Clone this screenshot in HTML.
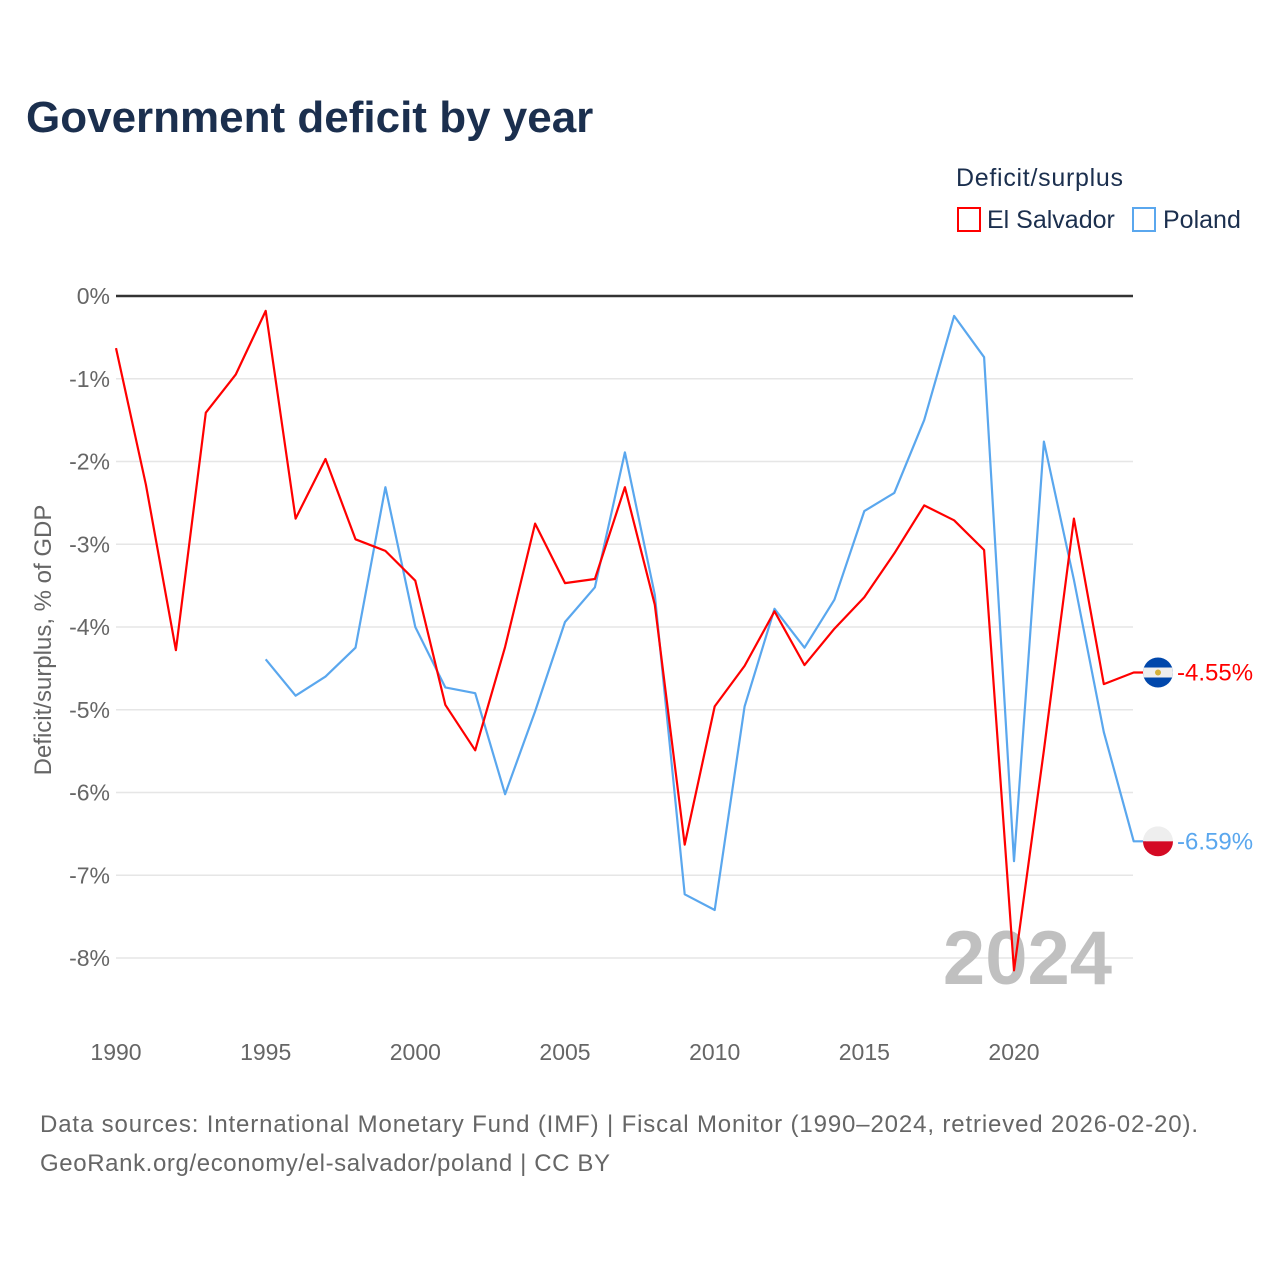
<!DOCTYPE html>
<html><head><meta charset="utf-8">
<style>
body{margin:0;background:#fff;font-family:"Liberation Sans",sans-serif;}
#wrap{position:relative;width:1280px;height:1280px;overflow:hidden;}
</style></head>
<body>
<div id="wrap">
<svg id="chart" width="1280" height="1280">
  <text x="26" y="132" font-size="44" font-weight="bold" fill="#1b2f4e">Government deficit by year</text>
  <text x="956" y="186" font-size="25" fill="#1b2f4e" textLength="167">Deficit/surplus</text>
  <g>
    <rect x="958" y="208" width="22" height="23" fill="none" stroke="#ff0000" stroke-width="2"/>
    <text x="987" y="228" font-size="25" fill="#1b2f4e">El Salvador</text>
  </g>
  <g>
    <rect x="1133" y="208" width="22" height="23" fill="none" stroke="#5aa7ee" stroke-width="2"/>
    <text x="1163" y="228" font-size="25" fill="#1b2f4e">Poland</text>
  </g>
  <g id="grid"></g>
  <g id="yticks"></g>
  <g id="xticks"></g>
  <text transform="translate(51,640) rotate(-90)" text-anchor="middle" font-size="24" fill="#666">Deficit/surplus, % of GDP</text>
  <text x="1112" y="984" text-anchor="end" font-size="76" font-weight="bold" fill="#c0c0c0">2024</text>
  <g id="series"></g>
  <text x="40" y="1132" font-size="24" fill="#666" textLength="1158">Data sources: International Monetary Fund (IMF) | Fiscal Monitor (1990–2024, retrieved 2026-02-20).</text>
  <text x="40" y="1171" font-size="24" fill="#666" textLength="570">GeoRank.org/economy/el-salvador/poland | CC BY</text>
</svg>
</div>
<script>
const years = [];
for (let y = 1990; y <= 2024; y++) years.push(y);
const elSalvador = [-0.63,-2.28,-4.28,-1.41,-0.95,-0.18,-2.69,-1.97,-2.94,-3.08,-3.44,-4.94,-5.49,-4.24,-2.75,-3.47,-3.42,-2.31,-3.73,-6.63,-4.96,-4.47,-3.81,-4.46,-4.02,-3.64,-3.11,-2.53,-2.71,-3.07,-8.15,-5.49,-2.69,-4.69,-4.55];
const polandYears = [1995,1996,1997,1998,1999,2000,2001,2002,2003,2004,2005,2006,2007,2008,2009,2010,2011,2012,2013,2014,2015,2016,2017,2018,2019,2020,2021,2022,2023,2024];
const poland = [-4.39,-4.83,-4.60,-4.25,-2.31,-4.00,-4.73,-4.80,-6.02,-5.02,-3.94,-3.52,-1.89,-3.61,-7.23,-7.42,-4.96,-3.78,-4.25,-3.67,-2.60,-2.38,-1.50,-0.24,-0.74,-6.83,-1.76,-3.43,-5.27,-6.59];
const yTicks = [0,-1,-2,-3,-4,-5,-6,-7,-8];
const xTicks = [1990,1995,2000,2005,2010,2015,2020];

const NS = "http://www.w3.org/2000/svg";
const X = yr => 116 + (yr - 1990) * (898 / 30);
const Y = v => 296 - v * 82.75;
function mk(tag, attrs, parent){const e=document.createElementNS(NS,tag);for(const k in attrs)e.setAttribute(k,attrs[k]);parent.appendChild(e);return e;}

const grid = document.getElementById('grid'), yt = document.getElementById('yticks'), xt = document.getElementById('xticks'), ser = document.getElementById('series');
yTicks.forEach(v => {
  if (v !== 0) {
    const l = mk('line',{x1:116,x2:1133,y1:Y(v),y2:Y(v),stroke:'#e6e6e6','stroke-width':1.5},grid);
    
    
  }
  const t = mk('text',{x:110,y:Y(v)+8,'text-anchor':'end','font-size':23,fill:'#666'},yt);
  t.textContent = v + '%';
  
  
});
const zero = mk('line',{x1:116,x2:1133,y1:Y(0),y2:Y(0),stroke:'#333','stroke-width':2.5},grid);


xTicks.forEach(yr => {
  const t = mk('text',{x:X(yr),y:1060,'text-anchor':'middle','font-size':23,fill:'#666'},xt);
  t.textContent = yr;
  
  
});
function line(xs, vs, color, name){
  let d = xs.map((yr,i)=>(i?'L':'M')+X(yr).toFixed(1)+','+Y(vs[i]).toFixed(1)).join(' ');
  d += ' L1146,' + Y(vs[vs.length-1]).toFixed(1);
  const p = mk('path',{d:d,fill:'none',stroke:color,'stroke-width':2.2,'stroke-linejoin':'round'},ser);
  
  
}
line(polandYears, poland, '#5aa7ee', 'poland-line');
line(years, elSalvador, '#ff0000', 'el-salvador-line');

const esY = Y(elSalvador[elSalvador.length-1]), plY = Y(poland[poland.length-1]);
const f1 = mk('g',{},ser);


mk('clipPath',{id:'c1'},f1); mk('circle',{cx:1158,cy:esY,r:15},f1.lastChild);
const g1 = mk('g',{'clip-path':'url(#c1)'},f1);
mk('rect',{x:1143,y:esY-15,width:30,height:30,fill:'#0047ab'},g1);
mk('rect',{x:1143,y:esY-5,width:30,height:10,fill:'#eee'},g1);
mk('circle',{cx:1158,cy:esY,r:3,fill:'#d4b13a'},g1);
const l1 = mk('text',{x:1177,y:esY+8,'font-size':24,fill:'#ff0000'},ser);
l1.textContent = elSalvador[elSalvador.length-1].toFixed(2) + '%';


const f2 = mk('g',{},ser);


mk('clipPath',{id:'c2'},f2); mk('circle',{cx:1158,cy:plY,r:15},f2.lastChild);
const g2 = mk('g',{'clip-path':'url(#c2)'},f2);
mk('rect',{x:1143,y:plY-15,width:30,height:15,fill:'#eee'},g2);
mk('rect',{x:1143,y:plY,width:30,height:15,fill:'#d40a24'},g2);
const l2 = mk('text',{x:1177,y:plY+8,'font-size':24,fill:'#5aa7ee'},ser);
l2.textContent = poland[poland.length-1].toFixed(2) + '%';


</script>
</body></html>
